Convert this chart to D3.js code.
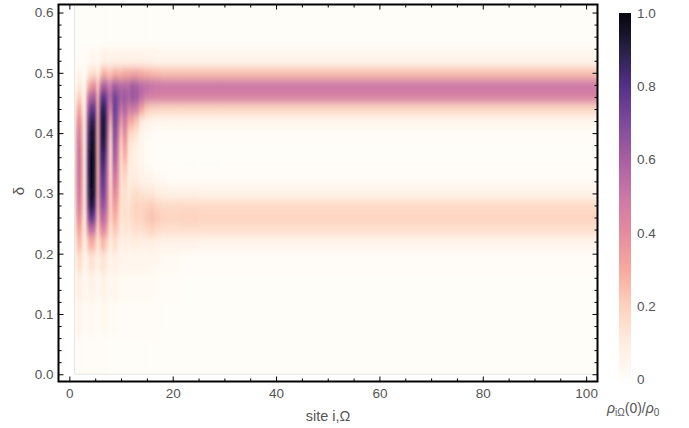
<!DOCTYPE html>
<html>
<head>
<meta charset="utf-8">
<script src="https://cdn.jsdelivr.net/npm/d3@7"></script>
<style>
  html, body { margin: 0; padding: 0; background: #fff; }
  svg { display: block; font-family: "Liberation Sans", Arial, sans-serif; }
</style>
</head>
<body>
<svg id="chart" width="689" height="428"></svg>
<script>
// column centres (site i, Omega)
const sites = [1, 1.5, 2, 2.5, 3, 3.5, 4, 4.5, 5, 5.5, 6, 6.5, 7, 7.5, 8, 8.5, 9, 9.5,
  10, 10.5, 11, 11.5, 12, 13, 14, 15, 16, 17, 18, 20, 23, 27, 32];

// row centres (delta)
const deltas = [0.03, 0.10, 0.15, 0.19, 0.22, 0.24, 0.26, 0.28, 0.30, 0.32, 0.34,
  0.36, 0.38, 0.40, 0.42, 0.44, 0.46, 0.48, 0.50, 0.52, 0.56];

// rho_iOmega(0)/rho_0 in percent, one list per site, low delta -> high delta
const density = [
  [1, 2, 3, 5, 7, 9, 11, 13, 14, 15, 15, 15, 14, 13, 11, 8, 5, 3, 1, 0, 0],
  [1, 4, 7, 13, 21, 27, 33, 37, 40, 42, 42, 42, 41, 38, 33, 25, 16, 9, 4, 1, 0],
  [2, 5, 9, 17, 27, 35, 43, 50, 52, 54, 55, 55, 53, 50, 44, 34, 22, 12, 5, 1, 0],
  [1, 3, 6, 11, 17, 21, 25, 28, 30, 30, 30, 30, 29, 27, 24, 18, 12, 7, 3, 1, 0],
  [0, 1, 2, 4, 6, 7, 8, 8, 8, 8, 8, 8, 8, 8, 8, 7, 5, 3, 1, 0, 0],
  [1, 2, 4, 9, 20, 36, 52, 63, 70, 72, 74, 74, 72, 68, 63, 54, 42, 23, 8, 2, 0],
  [1, 3, 7, 14, 29, 55, 80, 94, 98, 100, 100, 100, 98, 94, 88, 77, 58, 34, 14, 3, 0],
  [1, 3, 7, 14, 29, 55, 80, 94, 98, 100, 100, 100, 98, 96, 91, 80, 62, 38, 15, 4, 0],
  [1, 2, 5, 11, 24, 45, 66, 80, 86, 88, 90, 90, 89, 87, 84, 76, 60, 40, 16, 4, 0],
  [0, 1, 3, 6, 11, 17, 23, 27, 29, 29, 29, 29, 29, 29, 29, 29, 27, 21, 9, 2, 0],
  [1, 2, 5, 11, 21, 37, 50, 58, 64, 68, 72, 76, 80, 82, 82, 78, 68, 48, 20, 5, 0],
  [1, 3, 7, 14, 27, 45, 58, 68, 75, 80, 85, 90, 95, 98, 98, 93, 82, 60, 28, 7, 0],
  [1, 3, 6, 12, 23, 40, 52, 60, 66, 70, 74, 80, 86, 90, 90, 86, 78, 60, 28, 7, 0],
  [0, 2, 4, 8, 15, 25, 33, 38, 40, 42, 44, 48, 52, 56, 60, 62, 62, 50, 24, 6, 0],
  [0, 1, 3, 5, 9, 13, 17, 17, 17, 15, 14, 14, 15, 19, 27, 42, 55, 50, 24, 6, 0],
  [0, 2, 4, 8, 15, 21, 27, 33, 40, 46, 52, 58, 62, 66, 70, 72, 72, 60, 28, 7, 0],
  [0, 2, 4, 8, 15, 23, 29, 35, 42, 48, 54, 60, 64, 68, 72, 74, 74, 62, 30, 7, 0],
  [0, 1, 3, 6, 11, 17, 21, 25, 29, 33, 37, 41, 45, 52, 58, 64, 68, 58, 28, 7, 0],
  [0, 1, 2, 4, 7, 11, 13, 13, 13, 13, 13, 14, 17, 23, 34, 50, 60, 55, 28, 7, 0],
  [0, 1, 2, 5, 9, 13, 15, 15, 15, 17, 21, 27, 33, 41, 50, 58, 64, 58, 30, 7, 0],
  [0, 1, 2, 5, 9, 13, 15, 15, 15, 17, 21, 27, 33, 39, 48, 56, 62, 56, 30, 7, 0],
  [0, 1, 2, 4, 7, 11, 13, 12, 11, 10, 10, 11, 13, 19, 30, 46, 58, 56, 30, 7, 0],
  [0, 1, 2, 4, 9, 14, 17, 17, 15, 11, 9, 9, 11, 17, 30, 50, 64, 62, 32, 7, 0],
  [0, 1, 2, 4, 9, 15, 19, 19, 16, 11, 8, 7, 9, 13, 23, 46, 62, 60, 32, 7, 0],
  [0, 1, 2, 4, 8, 15, 19, 19, 14, 8, 5, 4, 4, 5, 11, 32, 54, 56, 30, 7, 0],
  [0, 1, 2, 4, 8, 17, 22, 20, 13, 7, 3, 2, 2, 3, 7, 22, 48, 54, 28, 6, 0],
  [0, 1, 2, 4, 9, 19, 24, 21, 13, 6, 2, 1, 1, 2, 5, 19, 46, 52, 27, 6, 0],
  [0, 1, 1, 3, 7, 17, 22, 19, 10, 4, 1, 0, 0, 1, 4, 18, 45, 51, 26, 5, 0],
  [0, 0, 1, 2, 6, 15, 20, 17, 9, 3, 1, 0, 0, 1, 4, 17, 45, 50, 25, 5, 0],
  [0, 0, 1, 2, 6, 15, 19, 17, 8, 2, 0, 0, 0, 1, 4, 17, 45, 50, 25, 5, 0],
  [0, 0, 0, 1, 6, 15, 20, 17, 8, 2, 0, 0, 0, 1, 4, 17, 45, 50, 25, 5, 0],
  [0, 0, 0, 1, 5, 15, 19, 17, 7, 2, 0, 0, 0, 1, 4, 17, 45, 50, 25, 5, 0],
  [0, 0, 0, 1, 5, 15, 19, 17, 7, 2, 0, 0, 0, 1, 4, 17, 45, 50, 25, 5, 0]
];

const xTicks = [0, 20, 40, 60, 80, 100];
const yTicks = [0.0, 0.1, 0.2, 0.3, 0.4, 0.5, 0.6];
const colorTicks = [0, 0.2, 0.4, 0.6, 0.8, 1.0];
const colorTickLabels = ['0', '0.2', '0.4', '0.6', '0.8', '1.0'];

const colorStops = [0, 0.1, 0.2, 0.3, 0.4, 0.5, 0.6, 0.7, 0.8, 0.9, 1];
const colorRange = ['#fffdf8', '#ffede0', '#fdd2be', '#f7a99e', '#e58c9f', '#cb78a7',
  '#a85fa1', '#7e4b9b', '#55308a', '#272046', '#05050c'];

const svg = d3.select('#chart');
const defs = svg.append('defs');

const x = d3.scaleLinear().domain([-2.1, 102.2]).range([58.5, 597.5]);
const y = d3.scaleLinear().domain([-0.012, 0.6133]).range([381.5, 4.5]);
const color = d3.scaleLinear().domain(colorStops).range(colorRange).clamp(true);

// density cells
defs.append('clipPath').attr('id', 'dataClip')
  .append('rect')
  .attr('x', x(1))
  .attr('y', y.range()[1])
  .attr('width', x.range()[1] - x(1))
  .attr('height', y(0) - y.range()[1]);

defs.append('filter')
  .attr('id', 'smooth')
  .attr('filterUnits', 'userSpaceOnUse')
  .attr('x', 0).attr('y', 0).attr('width', 689).attr('height', 428)
  .append('feGaussianBlur')
  .attr('stdDeviation', '1.3 4.5');

const cells = [];
sites.forEach((s, j) => {
  const x0 = j === 0 ? sites[0] - 2 : (sites[j - 1] + s) / 2;
  const x1 = j === sites.length - 1 ? x.domain()[1] + 2 : (s + sites[j + 1]) / 2;
  deltas.forEach((d, i) => {
    const y0 = i === 0 ? -0.05 : (deltas[i - 1] + d) / 2;
    const y1 = i === deltas.length - 1 ? 0.66 : (d + deltas[i + 1]) / 2;
    cells.push({x0, x1, y0, y1, v: density[j][i] / 100});
  });
});

svg.append('g')
  .attr('clip-path', 'url(#dataClip)')
  .append('g')
  .attr('filter', 'url(#smooth)')
  .selectAll('rect')
  .data(cells)
  .join('rect')
  .attr('x', d => x(d.x0))
  .attr('y', d => y(d.y1))
  .attr('width', d => x(d.x1) - x(d.x0) + 0.5)
  .attr('height', d => y(d.y0) - y(d.y1) + 0.5)
  .attr('fill', d => color(d.v));

// faint edge of the sampled region
svg.append('path')
  .attr('d', 'M' + x(1) + ',' + y.range()[1] + 'V' + y(0) + 'H' + x.range()[1])
  .attr('fill', 'none')
  .attr('stroke', '#e6e6e6')
  .attr('stroke-width', 1);

// axes: major + minor ticks, inward, on all four sides
const xMinor = d3.range(0, 101, 5).filter(v => xTicks.indexOf(v) < 0);
const yMinor = d3.range(0, 31).map(v => +(v * 0.02).toFixed(2)).filter(v => v * 10 % 1 !== 0);

const tickStyle = g => {
  g.select('.domain').remove();
  g.selectAll('line').attr('stroke', '#000').attr('stroke-width', 1);
  g.selectAll('text').attr('fill', '#555').attr('font-size', 13.5)
    .attr('font-family', '"Liberation Sans", Arial, sans-serif');
};

const H = y.range()[0], T = y.range()[1], L = x.range()[0], R = x.range()[1];

svg.append('g').attr('transform', 'translate(0,' + H + ')')
  .call(d3.axisBottom(x).tickValues(xTicks).tickSize(-5).tickPadding(7).tickFormat(d3.format('d')))
  .call(tickStyle);
svg.append('g').attr('transform', 'translate(0,' + H + ')')
  .call(d3.axisBottom(x).tickValues(xMinor).tickSize(-3).tickFormat(''))
  .call(tickStyle);
svg.append('g').attr('transform', 'translate(0,' + T + ')')
  .call(d3.axisTop(x).tickValues(xTicks).tickSize(-5).tickFormat(''))
  .call(tickStyle);
svg.append('g').attr('transform', 'translate(0,' + T + ')')
  .call(d3.axisTop(x).tickValues(xMinor).tickSize(-3).tickFormat(''))
  .call(tickStyle);

svg.append('g').attr('transform', 'translate(' + L + ',0)')
  .call(d3.axisLeft(y).tickValues(yTicks).tickSize(-5).tickPadding(5).tickFormat(d3.format('.1f')))
  .call(tickStyle);
svg.append('g').attr('transform', 'translate(' + L + ',0)')
  .call(d3.axisLeft(y).tickValues(yMinor).tickSize(-3).tickFormat(''))
  .call(tickStyle);
svg.append('g').attr('transform', 'translate(' + R + ',0)')
  .call(d3.axisRight(y).tickValues(yTicks).tickSize(-5).tickFormat(''))
  .call(tickStyle);
svg.append('g').attr('transform', 'translate(' + R + ',0)')
  .call(d3.axisRight(y).tickValues(yMinor).tickSize(-3).tickFormat(''))
  .call(tickStyle);

// frame
svg.append('rect')
  .attr('x', L).attr('y', T)
  .attr('width', R - L).attr('height', H - T)
  .attr('fill', 'none')
  .attr('stroke', '#000')
  .attr('stroke-width', 2);

// axis labels
svg.append('text')
  .attr('x', 328).attr('y', 421)
  .attr('text-anchor', 'middle')
  .attr('fill', '#555')
  .attr('font-size', 14.5)
  .text('site i,Ω');

svg.append('text')
  .attr('transform', 'translate(24,191) rotate(-90)')
  .attr('text-anchor', 'middle')
  .attr('fill', '#555')
  .attr('font-size', 15)
  .text('δ');

// colour bar
const cy = d3.scaleLinear().domain([0, 1]).range([379.5, 13]);
const grad = defs.append('linearGradient')
  .attr('id', 'barGrad')
  .attr('x1', 0).attr('y1', 1).attr('x2', 0).attr('y2', 0);
grad.selectAll('stop')
  .data(colorStops)
  .join('stop')
  .attr('offset', d => d)
  .attr('stop-color', d => color(d));

svg.append('rect')
  .attr('x', 619).attr('y', cy(1))
  .attr('width', 12).attr('height', cy(0) - cy(1))
  .attr('fill', 'url(#barGrad)');

svg.append('g').attr('transform', 'translate(631,0)')
  .call(d3.axisRight(cy).tickValues(colorTicks).tickSize(0).tickPadding(6)
    .tickFormat((d, i) => colorTickLabels[i]))
  .call(tickStyle);

const lbl = svg.append('text')
  .attr('x', 607).attr('y', 413)
  .attr('fill', '#555')
  .attr('font-size', 14);
lbl.append('tspan').attr('font-style', 'italic').text('ρ');
lbl.append('tspan').attr('font-size', 10).attr('dy', 3).text('iΩ');
lbl.append('tspan').attr('dy', -3).text('(0)/');
lbl.append('tspan').attr('font-style', 'italic').text('ρ');
lbl.append('tspan').attr('font-size', 10).attr('dy', 3).text('0');
</script>
</body>
</html>
